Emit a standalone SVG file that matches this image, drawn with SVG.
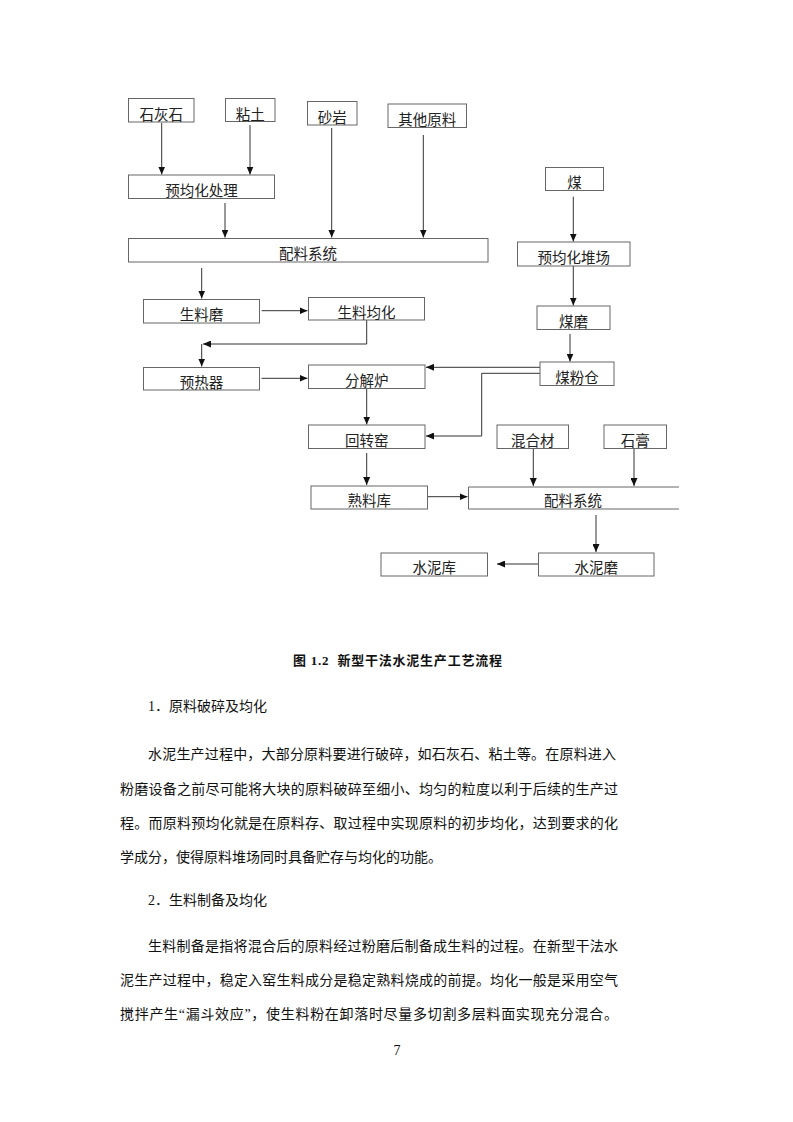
<svg xmlns="http://www.w3.org/2000/svg" width="793" height="1122" viewBox="0 0 793 1122">
<style>
.box{fill:#fff;stroke:#666;stroke-width:1}
.bt{font-family:"Noto Sans CJK SC","Noto Sans",sans-serif;font-size:14.5px;fill:#222;text-anchor:middle}
.c{fill:none;stroke:#333;stroke-width:1;marker-end:url(#ah)}
.p{font-family:"Liberation Serif","Noto Sans CJK SC",serif;font-size:14px;fill:#111}
.cap{font-family:"Liberation Serif","Noto Sans CJK SC",serif;font-size:13px;font-weight:bold;fill:#111}
</style>
<defs>
<marker id="ah" markerUnits="userSpaceOnUse" markerWidth="8" markerHeight="7" refX="8" refY="3.5" orient="auto">
<path d="M0,0 L8,3.5 L0,7 z" fill="#111"/>
</marker>
</defs>
<rect width="793" height="1122" fill="#fff"/>
<g id="connectors">
<path class="c" d="M161.7,123 V174.5"/>
<path class="c" d="M250,125 V174.5"/>
<path class="c" d="M331.7,128 V237.5"/>
<path class="c" d="M423.3,135 V237.5"/>
<path class="c" d="M225,203 V237.5"/>
<path class="c" d="M201.7,268 V298.5"/>
<path class="c" d="M261.7,310.7 H307.5"/>
<path class="c" d="M366.7,320 V344 H203"/>
<path class="c" d="M201.7,344 V366.5"/>
<path class="c" d="M261.5,378.3 H307.5"/>
<path class="c" d="M540,367.3 H426"/>
<path class="c" d="M540,373.3 H481.7 V436 H426"/>
<path class="c" d="M366.7,388.3 V424.5"/>
<path class="c" d="M366.7,453 V485"/>
<path class="c" d="M427.3,496.7 H467.5"/>
<path class="c" d="M533.3,448.3 V486"/>
<path class="c" d="M634,448.3 V486"/>
<path class="c" d="M596,515 V552"/>
<path class="c" d="M538,564 H497"/>
<path class="c" d="M573.3,196.7 V241.5"/>
<path class="c" d="M573.3,266 V305.5"/>
<path class="c" d="M570,334 V361.5"/>
</g>
<g id="n_shihuishi"><rect class="box" x="128.5" y="98.5" width="65.5" height="23.5"/><text class="bt" x="161.2" y="119.5">石灰石</text></g>
<g id="n_niantu"><rect class="box" x="225.5" y="98.5" width="49.5" height="23"/><text class="bt" x="250.2" y="119.5">粘土</text></g>
<g id="n_shayan"><rect class="box" x="307.5" y="101.5" width="49.5" height="23.5"/><text class="bt" x="332.2" y="122.5">砂岩</text></g>
<g id="n_qita"><rect class="box" x="388" y="104" width="78.5" height="23.5"/><text class="bt" x="427.2" y="125">其他原料</text></g>
<g id="n_yujunhua"><rect class="box" x="128.5" y="175" width="146" height="23.5"/><text class="bt" x="201.5" y="195.5">预均化处理</text></g>
<g id="n_peiliao1"><rect class="box" x="128.5" y="238.5" width="359.5" height="23.5"/><text class="bt" x="308" y="259">配料系统</text></g>
<g id="n_shengliaomo"><rect class="box" x="143.5" y="299.5" width="116" height="23.5"/><text class="bt" x="201.5" y="320">生料磨</text></g>
<g id="n_shengliaojunhua"><rect class="box" x="308.5" y="297.5" width="116" height="22.5"/><text class="bt" x="366.5" y="317.5">生料均化</text></g>
<g id="n_yureqi"><rect class="box" x="143.5" y="367.5" width="116" height="22.5"/><text class="bt" x="201.5" y="387.5">预热器</text></g>
<g id="n_fenjielu"><rect class="box" x="308.5" y="365" width="116.5" height="23.5"/><text class="bt" x="366.7" y="385.5">分解炉</text></g>
<g id="n_huizhuanyao"><rect class="box" x="308.5" y="425" width="116.5" height="23.5"/><text class="bt" x="366.7" y="445.5">回转窑</text></g>
<g id="n_shuliaoku"><rect class="box" x="311" y="486" width="116.5" height="23"/><text class="bt" x="369.2" y="506">熟料库</text></g>
<g id="n_hunhecai"><rect class="box" x="497" y="425" width="71.5" height="23.5"/><text class="bt" x="532.7" y="445.5">混合材</text></g>
<g id="n_shigao"><rect class="box" x="604" y="425" width="62.5" height="23.5"/><text class="bt" x="635.2" y="445.5">石膏</text></g>
<g id="n_peiliao2"><path d="M679,487 H468.5 V509 H679" fill="#fff" stroke="#666" stroke-width="1"/><text class="bt" x="573" y="506">配料系统</text></g>
<g id="n_shuinimo"><rect class="box" x="538.5" y="553" width="115.5" height="23"/><text class="bt" x="596.2" y="573">水泥磨</text></g>
<g id="n_shuiniku"><rect class="box" x="381" y="553" width="106.5" height="23"/><text class="bt" x="434.2" y="573">水泥库</text></g>
<g id="n_mei"><rect class="box" x="545.5" y="167.5" width="58" height="23"/><text class="bt" x="574.5" y="187.5">煤</text></g>
<g id="n_yujunhuaduichang"><rect class="box" x="517.5" y="242" width="112.5" height="24"/><text class="bt" x="573.7" y="263">预均化堆场</text></g>
<g id="n_meimo"><rect class="box" x="537" y="306" width="73" height="23.5"/><text class="bt" x="573.5" y="326.5">煤磨</text></g>
<g id="n_meifencang"><rect class="box" x="540" y="362" width="74" height="23.5"/><text class="bt" x="577" y="382.5">煤粉仓</text></g>
<text class="cap" x="293" y="665" xml:space="preserve" textLength="209" lengthAdjust="spacing">图 1.2  新型干法水泥生产工艺流程</text>
<text class="p" x="148" y="711">1．原料破碎及均化</text>
<text class="p" x="148" y="759" textLength="468" lengthAdjust="spacing">水泥生产过程中，大部分原料要进行破碎，如石灰石、粘土等。在原料进入</text>
<text class="p" x="120" y="794" textLength="498" lengthAdjust="spacing">粉磨设备之前尽可能将大块的原料破碎至细小、均匀的粒度以利于后续的生产过</text>
<text class="p" x="120" y="828" textLength="498" lengthAdjust="spacing">程。而原料预均化就是在原料存、取过程中实现原料的初步均化，达到要求的化</text>
<text class="p" x="120" y="862">学成分，使得原料堆场同时具备贮存与均化的功能。</text>
<text class="p" x="148" y="905">2．生料制备及均化</text>
<text class="p" x="148" y="951" textLength="470" lengthAdjust="spacing">生料制备是指将混合后的原料经过粉磨后制备成生料的过程。在新型干法水</text>
<text class="p" x="120" y="985" textLength="498" lengthAdjust="spacing">泥生产过程中，稳定入窑生料成分是稳定熟料烧成的前提。均化一般是采用空气</text>
<text class="p" x="120" y="1019" textLength="498" lengthAdjust="spacing">搅拌产生“漏斗效应”，使生料粉在卸落时尽量多切割多层料面实现充分混合。</text>
<text class="p" x="397" y="1055" text-anchor="middle">7</text>
</svg>
